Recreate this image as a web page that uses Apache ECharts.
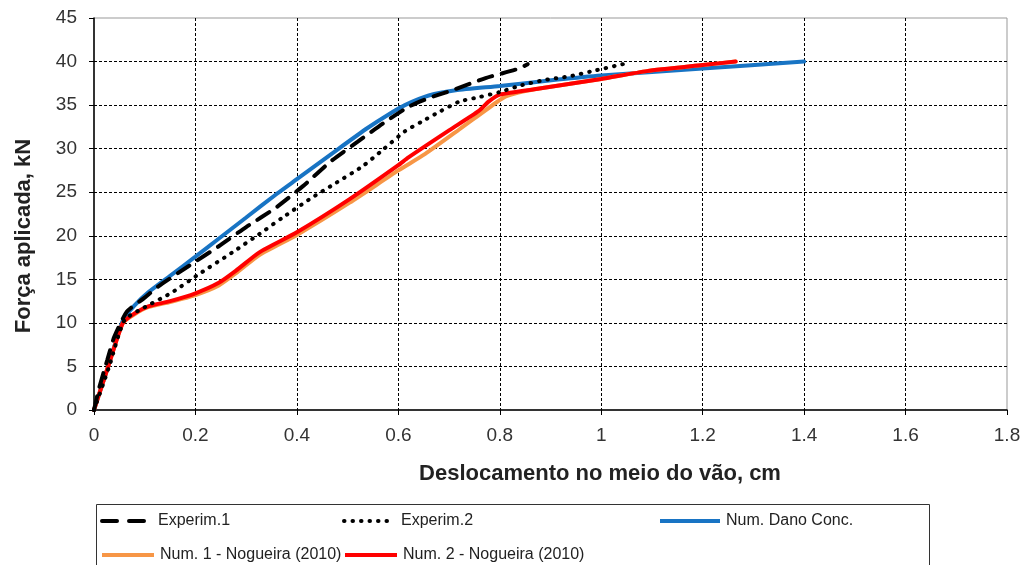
<!DOCTYPE html>
<html>
<head>
    <meta charset="utf-8">
    <title>index</title>
    <style>
        html, body { margin: 0; padding: 0; background: #fff; }
        #container { width: 1024px; height: 565px; }
    </style>
</head>
<body>
    <div id="container"></div>
</body>
<script src="https://cdn.jsdelivr.net/npm/echarts@6/dist/echarts.min.js"></script>
<script type="text/javascript">
    // dados: [deslocamento cm, forca kN]
    var experim1 = [[0, 0], [0.01, 2.5], [0.026, 5.7], [0.04, 8.4], [0.065, 11.3], [0.1, 12.9], [0.127, 14.2],
        [0.186, 16.5], [0.246, 18.8], [0.3, 21], [0.358, 23.2], [0.412, 25.7], [0.468, 28.6], [0.52, 30.8],
        [0.57, 32.9], [0.62, 34.8], [0.66, 35.8], [0.706, 36.7], [0.772, 38.1], [0.838, 39.2], [0.855, 39.7]];
    var experim2 = [[0, 0], [0.03, 5], [0.06, 10.3], [0.1, 11.8], [0.154, 13.5], [0.207, 15.6], [0.273, 18.1],
        [0.326, 20.2], [0.372, 22.1], [0.425, 24.2], [0.478, 26.1], [0.53, 28], [0.57, 29.9], [0.613, 32],
        [0.646, 33.1], [0.68, 34.2], [0.72, 35.4], [0.758, 35.9], [0.8, 36.5], [0.844, 37.3], [0.89, 37.9],
        [0.937, 38.3], [0.99, 39], [1.05, 39.8]];
    var numDano = [[0, 0], [0.028, 5], [0.057, 10.3], [0.08, 12], [0.107, 13.5], [0.15, 15.4], [0.2, 17.6],
        [0.24, 19.4], [0.3, 22.1], [0.36, 24.8], [0.4, 26.5], [0.48, 29.9], [0.54, 32.4], [0.58, 33.9],
        [0.613, 35], [0.66, 36.1], [0.713, 36.7], [0.8, 37.2], [0.91, 37.9], [1.0, 38.4], [1.2, 39.2], [1.4, 40]];
    var num1Nogueira = [[0, 0], [0.028, 5], [0.057, 10], [0.08, 11], [0.107, 11.8], [0.15, 12.4], [0.2, 13.2],
        [0.246, 14.3], [0.28, 15.7], [0.326, 17.8], [0.4, 20.1], [0.504, 23.8], [0.6, 27.5], [0.653, 29.4],
        [0.72, 32.2], [0.793, 35.3], [0.812, 36], [0.85, 36.6], [0.878, 36.9], [1.0, 38], [1.09, 38.9],
        [1.2, 39.6], [1.265, 40]];
    var num2Nogueira = [[0, 0], [0.028, 5], [0.057, 10], [0.08, 11.1], [0.107, 11.9], [0.15, 12.5], [0.2, 13.4],
        [0.246, 14.6], [0.28, 16], [0.326, 18.1], [0.4, 20.4], [0.504, 24.2], [0.6, 28.1], [0.62, 29],
        [0.7, 32.1], [0.758, 34.3], [0.778, 35.4], [0.8, 36.2], [0.878, 36.9], [1.0, 38], [1.09, 38.9],
        [1.2, 39.6], [1.265, 40]];

    var seriesNames = ['Experim.1', 'Experim.2', 'Num. Dano Conc.', 'Num. 1 - Nogueira (2010)', 'Num. 2 - Nogueira (2010)'];
    var xMin = 0, xMax = 1.8, xStep = 0.2;
    var yMin = 0, yMax = 45, yStep = 5;

    var font = 'Liberation Sans, Arial, sans-serif';
    var dashExp1 = [14, 10], dotExp2 = [0.5, 8];
    var dom = document.getElementById('container');
    var myChart = echarts.init(dom, null, { renderer: 'canvas' });

    // uma legenda por serie, para posicionar cada item como no original
    function legendAt(name, left, top, w, color, type) {
        return {
            data: [name], left: left, top: top, padding: 0,
            itemWidth: w, itemHeight: 14, itemGap: 0,
            itemStyle: { opacity: 0 },
            lineStyle: { color: color, width: 4, type: type, cap: type === 'solid' ? 'butt' : 'round' },
            textStyle: { fontFamily: font, fontSize: 16, color: '#222', padding: [0, 0, 0, 1] },
            selectedMode: false
        };
    }

    function lineSeries(name, data, color, width, type, z) {
        return {
            name: name, type: 'line', data: data, symbol: 'none', smooth: 0.2, z: z,
            lineStyle: { color: color, width: width, type: type, cap: 'round' },
            itemStyle: { color: color }
        };
    }

    var option = {
        animation: false,
        backgroundColor: '#fff',
        grid: { left: 94, right: 17, top: 18, bottom: 155, show: true, borderColor: '#999', borderWidth: 1 },
        xAxis: {
            type: 'value', min: xMin, max: xMax, interval: xStep,
            axisLine: { show: true, lineStyle: { color: '#000', width: 1.5 } },
            axisTick: { show: true, length: 5, lineStyle: { color: '#000' } },
            axisLabel: { margin: 16, fontFamily: font, fontSize: 19, color: '#333' },
            splitLine: { show: true, showMinLine: false, showMaxLine: false,
                lineStyle: { color: '#000', type: [3, 2], width: 1 } }
        },
        yAxis: {
            type: 'value', min: yMin, max: yMax, interval: yStep,
            axisLine: { show: true, lineStyle: { color: '#000', width: 1.5 } },
            axisTick: { show: true, length: 5, lineStyle: { color: '#000' } },
            axisLabel: { margin: 17, fontFamily: font, fontSize: 19, color: '#333' },
            splitLine: { show: true, showMinLine: false, showMaxLine: false,
                lineStyle: { color: '#000', type: [3, 2], width: 1 } }
        },
        legend: [
            legendAt(seriesNames[0], 100, 513, 50, '#000', [15, 12]),
            legendAt(seriesNames[1], 342, 513, 51, '#000', [0.5, 8]),
            legendAt(seriesNames[2], 658, 513, 60, '#1874C4', 'solid'),
            legendAt(seriesNames[3], 100, 547, 52, '#F79646', 'solid'),
            legendAt(seriesNames[4], 343, 547, 52, '#FF0000', 'solid')
        ],
        graphic: [
            { type: 'rect', shape: { x: 96.5, y: 504.5, width: 833, height: 90 },
              style: { fill: 'none', stroke: '#333', lineWidth: 1 }, silent: true },
            { type: 'text', x: 600, y: 474,
              style: { text: 'Deslocamento no meio do vão, cm', fontFamily: font, fontSize: 22, fontWeight: 'bold',
                       fill: '#222', textAlign: 'center', textVerticalAlign: 'middle' } },
            { type: 'text', x: 24, y: 236, rotation: Math.PI / 2,
              style: { text: 'Força aplicada, kN', fontFamily: font, fontSize: 22, fontWeight: 'bold',
                       fill: '#222', textAlign: 'center', textVerticalAlign: 'middle' } }
        ],
        series: [
            lineSeries(seriesNames[0], experim1, '#000', 4, dashExp1, 7),
            lineSeries(seriesNames[1], experim2, '#000', 4, dotExp2, 6),
            lineSeries(seriesNames[2], numDano, '#1874C4', 4, 'solid', 3),
            lineSeries(seriesNames[3], num1Nogueira, '#F79646', 4, 'solid', 4),
            lineSeries(seriesNames[4], num2Nogueira, '#FF0000', 4, 'solid', 5)
        ]
    };

    myChart.setOption(option, true);
</script>
</html>
